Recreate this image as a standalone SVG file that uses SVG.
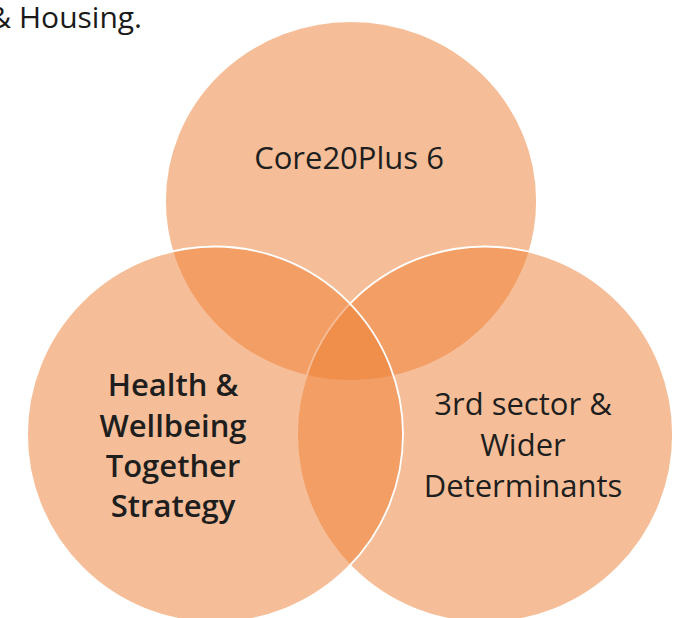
<svg xmlns="http://www.w3.org/2000/svg" width="690" height="618" viewBox="0 0 690 618">
  <style>
    .set { fill: #ED7D31; fill-opacity: 0.5; stroke: #FFFFFF; stroke-width: 1.8; }
    .lbl { font-family: "Open Sans", "Noto Sans", "DejaVu Sans", sans-serif; font-size: 31px; fill: #1E1E1E; text-anchor: middle; }
    .bold { font-weight: 600; }
    .body { font-family: "Open Sans", "Noto Sans", "DejaVu Sans", sans-serif; font-size: 30px; fill: #1A1A1A; }
  </style>
  <rect width="690" height="618" fill="#FFFFFF"/>
  <!-- tail of the paragraph above the figure -->
  <text class="body" x="142" y="28" text-anchor="end">&amp; Housing.</text>

  <!-- three overlapping sets; half-transparent fills build the darker overlaps -->
  <g id="core20plus">
    <ellipse class="set" cx="351" cy="201" rx="186" ry="180"/>
  </g>
  <g id="third-sector">
    <circle class="set" cx="485" cy="434.5" r="188"/>
  </g>
  <g id="health-wellbeing">
    <circle class="set" cx="215" cy="434.5" r="188"/>
  </g>

  <g id="labels">
    <text class="lbl" x="349" y="169">Core20Plus 6</text>
    <text class="lbl bold" x="173" y="396">Health &amp;</text>
    <text class="lbl bold" x="173" y="437">Wellbeing</text>
    <text class="lbl bold" x="173" y="477">Together</text>
    <text class="lbl bold" x="173" y="517">Strategy</text>
    <text class="lbl" x="523" y="415">3rd sector &amp;</text>
    <text class="lbl" x="523" y="456">Wider</text>
    <text class="lbl" x="523" y="497">Determinants</text>
  </g>
  <g id="connectors"/>
</svg>
